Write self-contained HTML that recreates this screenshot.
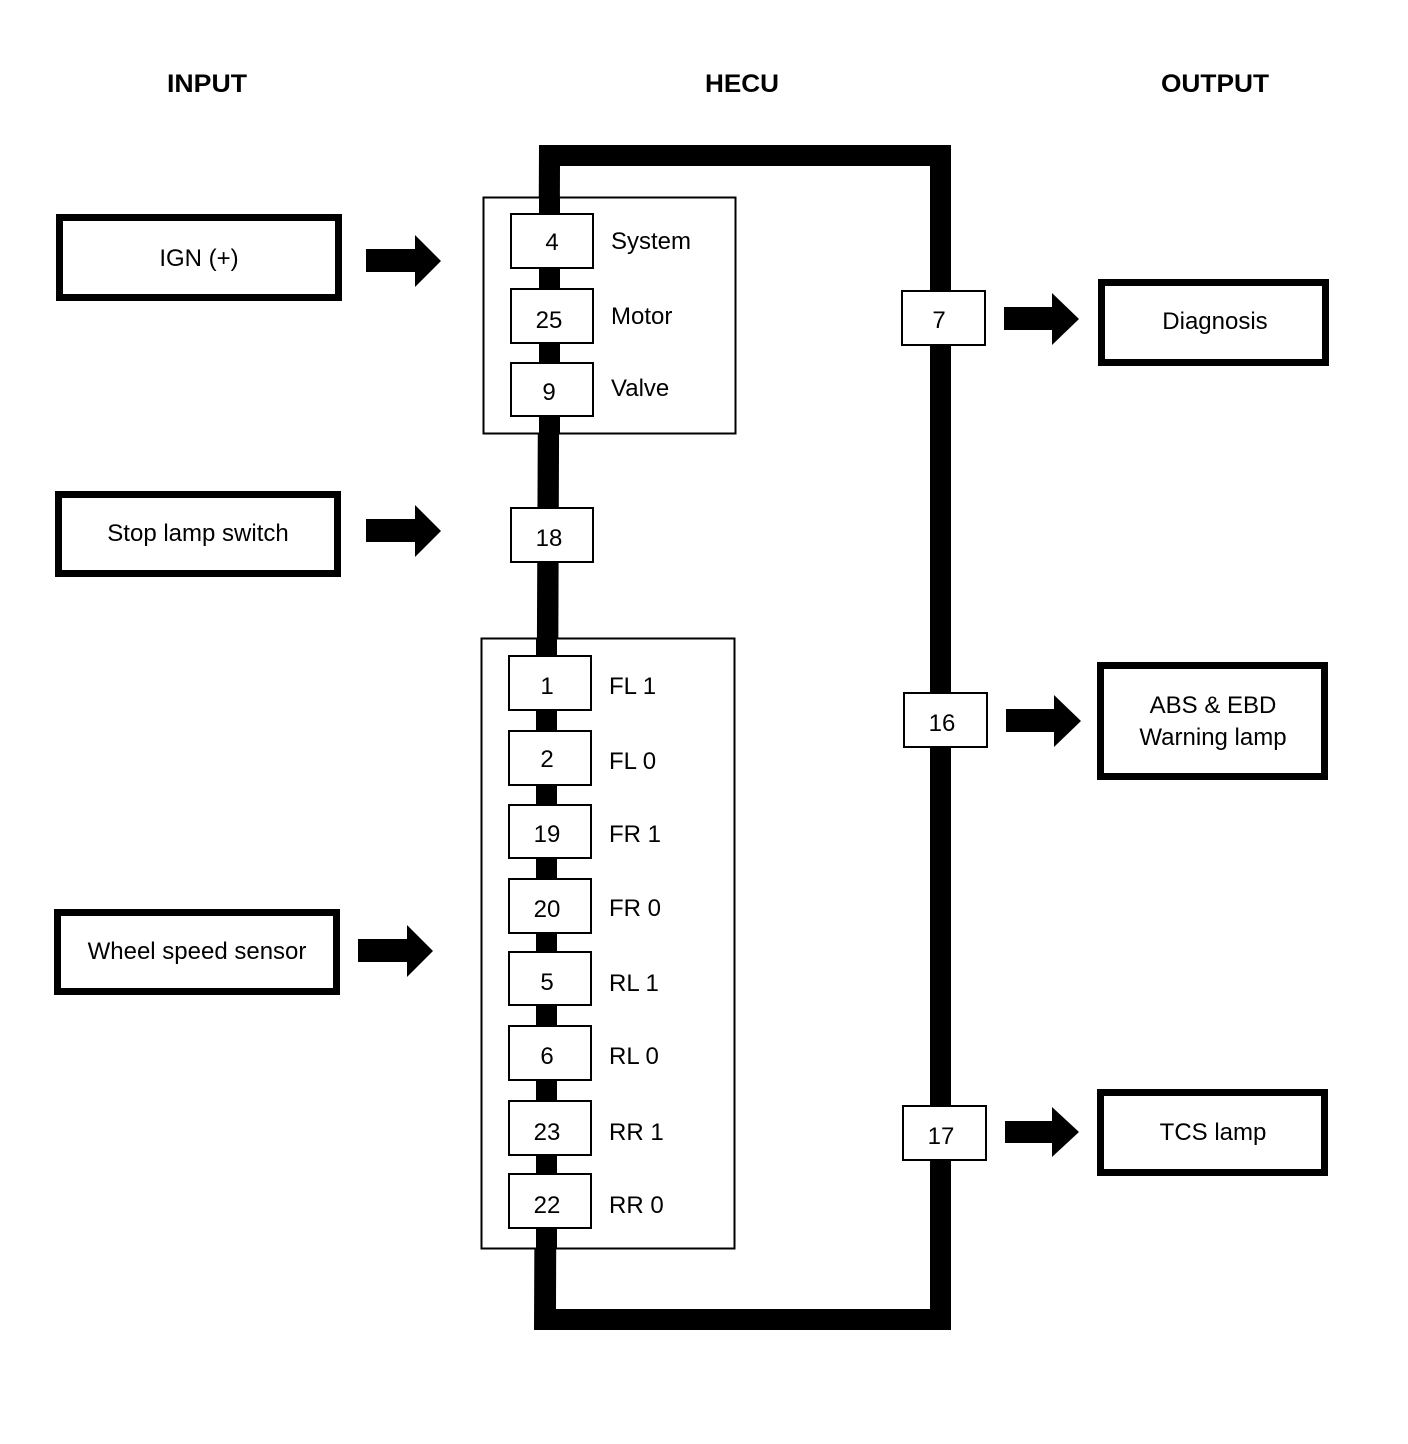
<!DOCTYPE html>
<html><head><meta charset="utf-8"><style>
html,body{margin:0;padding:0;background:#fff;}
svg{display:block;}
text{font-family:"Liberation Sans",sans-serif;fill:#000;}
</style></head><body>
<svg width="1408" height="1444" viewBox="0 0 1408 1444" xmlns="http://www.w3.org/2000/svg">
<g font-weight="bold" font-size="25" text-anchor="middle">
<text x="207" y="92" textLength="80" lengthAdjust="spacingAndGlyphs">INPUT</text>
<text x="742" y="92" textLength="74" lengthAdjust="spacingAndGlyphs">HECU</text>
<text x="1215" y="92" textLength="108" lengthAdjust="spacingAndGlyphs">OUTPUT</text>
</g>
<!-- thick loop -->
<polygon points="539,145 951,145 951,1330 534,1330" fill="#000"/>
<polygon points="560,166 930,166 930,1309 556,1309" fill="#fff"/>
<!-- groups -->
<rect x="483.5" y="197.5" width="252" height="236" fill="#fff" stroke="#000" stroke-width="2"/>
<rect x="481.5" y="638.5" width="253" height="610" fill="#fff" stroke="#000" stroke-width="2"/>
<!-- re-draw left bar segments through groups -->
<rect x="539" y="197" width="21" height="237" fill="#000"/>
<rect x="536" y="638" width="21" height="611" fill="#000"/>
<g fill="#fff" stroke="#000" stroke-width="2">
<rect x="511" y="214" width="82" height="54"/>
<rect x="511" y="289" width="82" height="54"/>
<rect x="511" y="363" width="82" height="53"/>
<rect x="511" y="508" width="82" height="54"/>
<rect x="509" y="656" width="82" height="54"/>
<rect x="509" y="731" width="82" height="54"/>
<rect x="509" y="805" width="82" height="53"/>
<rect x="509" y="879" width="82" height="54"/>
<rect x="509" y="952" width="82" height="53"/>
<rect x="509" y="1026" width="82" height="54"/>
<rect x="509" y="1101" width="82" height="54"/>
<rect x="509" y="1174" width="82" height="54"/>
<rect x="902" y="291" width="83" height="54"/>
<rect x="904" y="693" width="83" height="54"/>
<rect x="903" y="1106" width="83" height="54"/>
</g>
<g font-size="24" text-anchor="middle">
<text x="552" y="250">4</text>
<text x="549" y="328">25</text>
<text x="549" y="400">9</text>
<text x="549" y="546">18</text>
<text x="547" y="694">1</text>
<text x="547" y="767">2</text>
<text x="547" y="842">19</text>
<text x="547" y="917">20</text>
<text x="547" y="990">5</text>
<text x="547" y="1064">6</text>
<text x="547" y="1140">23</text>
<text x="547" y="1213">22</text>
<text x="939" y="328">7</text>
<text x="942" y="731">16</text>
<text x="941" y="1144">17</text>
</g>
<g font-size="24">
<text x="611" y="249">System</text>
<text x="611" y="324">Motor</text>
<text x="611" y="396">Valve</text>
<text x="609" y="694">FL 1</text>
<text x="609" y="769">FL 0</text>
<text x="609" y="842">FR 1</text>
<text x="609" y="916">FR 0</text>
<text x="609" y="991">RL 1</text>
<text x="609" y="1064">RL 0</text>
<text x="609" y="1140">RR 1</text>
<text x="609" y="1213">RR 0</text>
</g>
<!-- input boxes -->
<g fill="#fff" stroke="#000" stroke-width="7">
<rect x="59.5" y="217.5" width="279" height="80"/>
<rect x="58.5" y="494.5" width="279" height="79"/>
<rect x="57.5" y="912.5" width="279" height="79"/>
<rect x="1101.5" y="282.5" width="224" height="80"/>
<rect x="1100.5" y="665.5" width="224" height="111"/>
<rect x="1100.5" y="1092.5" width="224" height="80"/>
</g>
<g font-size="24" text-anchor="middle">
<text x="199" y="266">IGN (+)</text>
<text x="198" y="541">Stop lamp switch</text>
<text x="197" y="959">Wheel speed sensor</text>
<text x="1215" y="329">Diagnosis</text>
<text x="1213" y="713">ABS &amp; EBD</text>
<text x="1213" y="745">Warning lamp</text>
<text x="1213" y="1140">TCS lamp</text>
</g>
<!-- arrows -->
<g fill="#000">
<polygon points="366,249 415,249 415,235 441,261 415,287 415,272 366,272"/>
<polygon points="366,519 415,519 415,505 441,531 415,557 415,542 366,542"/>
<polygon points="358,939 407,939 407,925 433,951 407,977 407,962 358,962"/>
<polygon points="1004,307 1052,307 1052,293 1079,319 1052,345 1052,330 1004,330"/>
<polygon points="1006,709 1054,709 1054,695 1081,721 1054,747 1054,732 1006,732"/>
<polygon points="1005,1121 1052,1121 1052,1107 1079,1132 1052,1157 1052,1143 1005,1143"/>
</g>
</svg>
</body></html>
